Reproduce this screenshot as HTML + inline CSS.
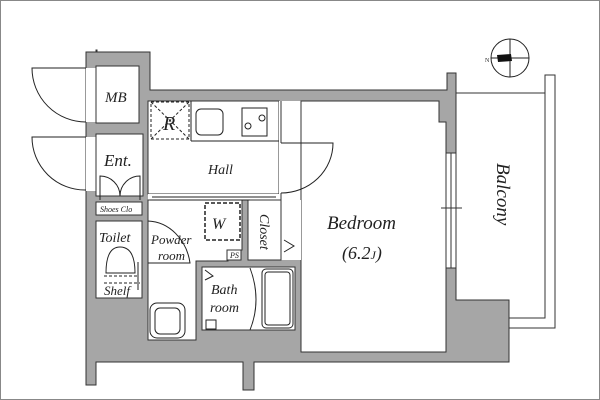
<!DOCTYPE html>
<html><head><meta charset="utf-8"><style>
html,body{margin:0;padding:0;background:#fff}
svg{display:block}
text{font-family:"Liberation Serif",serif;font-style:italic;fill:#222}
</style></head><body>
<svg width="600" height="400" viewBox="0 0 600 400" xmlns="http://www.w3.org/2000/svg">
<rect x="0.5" y="0.5" width="599" height="399" fill="#fff" stroke="#888" stroke-width="1"/>
<path d="M456,93 H545 V75 H555 V328 H509 V318 H545 V93" fill="#fff" stroke="#333" stroke-width="1"/>
<path d="M86,52 H96 V50 H97 V52 H150 V90 H447 V73 H456 V300 H509 V362 H254 V390 H243 V362 H96 V385 H86 Z" fill="#a6a6a6" stroke="#333" stroke-width="1"/>
<g fill="#fff" stroke="#333" stroke-width="1">
<rect x="86" y="68" width="10" height="54" stroke="none"/>
<rect x="86" y="137" width="10" height="54" stroke="none"/>
<rect x="96" y="66" width="43" height="57"/>
<rect x="96" y="134" width="47" height="62"/>
<rect x="96" y="202" width="46" height="13"/>
<rect x="148" y="101" width="131" height="93"/>
<rect x="148" y="194" width="133" height="6" stroke="none"/>
<rect x="279" y="101" width="22" height="99" stroke="none"/>
<rect x="96" y="221" width="46" height="77"/>
<path d="M148,200 H242 V250 H228 V261 H196 V340 H148 Z"/>
<rect x="248" y="200" width="33" height="60"/>
<rect x="227" y="250" width="14" height="10"/>
<rect x="202" y="267" width="93" height="63"/>
<path d="M301,101 H439 V122 H446 V352 H301 Z"/>
<rect x="281" y="200" width="20" height="60" stroke="none"/>
<rect x="446" y="153" width="10" height="115"/>
</g>
<line x1="451" y1="153" x2="451" y2="268" stroke="#333"/>
<line x1="441" y1="208" x2="462" y2="208" stroke="#333"/>
<line x1="281" y1="101" x2="281" y2="143" stroke="#333"/>
<line x1="281" y1="193" x2="281" y2="260" stroke="#333"/>
<g fill="none" stroke="#222" stroke-width="1">
<path d="M86,68 H32 A54,54 0 0 0 86,122"/>
<path d="M86,137 H32 A53,53 0 0 0 86,190"/>
<path d="M281,143 H333 A52,50 0 0 1 281,193"/>
<path d="M148,221 A44,50 0 0 1 190,263 H148"/>
<path d="M100,200 V176 A20,20 0 0 1 120,196 M140,200 V176 A20,20 0 0 0 120,196"/>
<path d="M250,200 H150 M152,197 H276"/>
<rect x="151" y="102" width="38" height="37" stroke-dasharray="3,2"/>
<path d="M151,102 L189,139 M189,102 L151,139" stroke-dasharray="3,2"/>
<rect x="205" y="203" width="35" height="37" stroke-dasharray="4,2" stroke-width="1.5"/>
<path d="M191,141 V101 M191,141 H279"/>
<rect x="196" y="109" width="27" height="26" rx="5"/>
<rect x="242" y="108" width="25" height="28"/>
<circle cx="262" cy="118" r="3"/><circle cx="248" cy="126" r="3"/>
<path d="M106,273 Q106,247 120,247 Q135,247 135,273 Z"/>
<path d="M104,276 H138 M104,283 H140" stroke-dasharray="3,2"/>
<path d="M138,262 V290"/>
<rect x="150" y="303" width="35" height="35" rx="7"/>
<rect x="155" y="308" width="25" height="26" rx="5"/>
<rect x="262" y="269" width="31" height="59" rx="4"/>
<rect x="265" y="272" width="25" height="53" rx="3"/>
<path d="M250,268 Q262,300 250,330"/>
<rect x="206" y="320" width="10" height="9"/>
<path d="M205,270 L213,276 L205,280 M284,240 L294,246 L284,252"/>
</g>
<g stroke="#222" fill="none">
<circle cx="510" cy="58" r="19"/>
<line x1="491" y1="58" x2="529" y2="58"/><line x1="510" y1="39" x2="510" y2="77"/>
</g>
<path d="M497,55 L511,54 L512,61 L498,62 Z" fill="#111"/>
<text x="485" y="62" font-size="6" style="font-style:normal">N</text>
<text x="105" y="102" font-size="15">MB</text>
<text x="104" y="166" font-size="17">Ent.</text>
<text x="100" y="212" font-size="8">Shoes Clo</text>
<text x="208" y="174" font-size="14">Hall</text>
<text x="163" y="130" font-size="20">R</text>
<text x="212" y="229" font-size="16">W</text>
<text x="99" y="242" font-size="14">Toilet</text>
<text x="151" y="244" font-size="13">Powder</text>
<text x="158" y="260" font-size="13">room</text>
<text x="104" y="295" font-size="13">Shelf</text>
<text x="230" y="258" font-size="8">PS</text>
<text x="211" y="294" font-size="14">Bath</text>
<text x="210" y="312" font-size="14">room</text>
<text x="0" y="0" font-size="14" transform="translate(260,214) rotate(90)">Closet</text>
<text x="327" y="229" font-size="19">Bedroom</text>
<text x="342" y="259" font-size="18">(6.2<tspan font-size="12">J</tspan>)</text>
<text x="0" y="0" font-size="19" transform="translate(497,163) rotate(90)">Balcony</text>
</svg>
</body></html>
